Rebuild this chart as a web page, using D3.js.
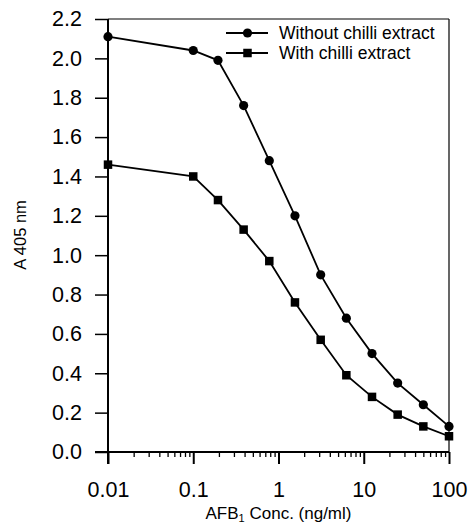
<!DOCTYPE html>
<html><head><meta charset="utf-8">
<script src="https://cdn.jsdelivr.net/npm/d3@7"></script>
<style>body{margin:0;background:#fff}svg{display:block}</style>
</head><body>
<script>
const conc = [0.01, 0.1, 0.195, 0.39, 0.78, 1.56, 3.125, 6.25, 12.5, 25, 50, 100];
const without = [2.11, 2.04, 1.99, 1.76, 1.48, 1.20, 0.90, 0.68, 0.50, 0.35, 0.24, 0.13];
const withC = [1.46, 1.40, 1.28, 1.13, 0.97, 0.76, 0.57, 0.39, 0.28, 0.19, 0.13, 0.08];
const yTicks = [0.0, 0.2, 0.4, 0.6, 0.8, 1.0, 1.2, 1.4, 1.6, 1.8, 2.0, 2.2];
const xTicks = [0.01, 0.1, 1, 10, 100];
const seriesNames = ["Without chilli extract", "With chilli extract"];

const W = 471, H = 523;
const L = 108, R = 449, T = 19, B = 452;
const svg = d3.select("body").append("svg").attr("width", W).attr("height", H);
const x = d3.scaleLog().domain([0.01, 100]).range([L, R]);
const y = d3.scaleLinear().domain([0, 2.2]).range([B, T]);
const font = "'Liberation Sans', Arial, sans-serif";

// frame top & right
svg.append("line").attr("x1", L).attr("x2", R).attr("y1", T).attr("y2", T).attr("stroke", "#000").attr("stroke-width", 1.2);
svg.append("line").attr("x1", R).attr("x2", R).attr("y1", T).attr("y2", B).attr("stroke", "#000").attr("stroke-width", 1.2);

// y axis
const yAxis = d3.axisLeft(y).tickValues(yTicks).tickFormat(d3.format(".1f")).tickSize(13).tickPadding(13);
const gy = svg.append("g").attr("transform", `translate(${L},0)`).call(yAxis);
gy.select(".domain").remove();
gy.selectAll(".tick line").attr("stroke-width", 1.5);
gy.selectAll("text").attr("font-family", font).attr("font-size", 21.5).attr("fill", "#000");
svg.append("line").attr("x1", L).attr("x2", L).attr("y1", T).attr("y2", B + 12).attr("stroke", "#000").attr("stroke-width", 2);

// x axis
const minor = [];
for (let e = -2; e < 2; e++) for (let k = 2; k <= 9; k++) minor.push(k * Math.pow(10, e));
const gxm = svg.append("g").attr("transform", `translate(0,${B})`).call(d3.axisBottom(x).tickValues(minor).tickSize(5).tickFormat(""));
gxm.select(".domain").remove();
gxm.selectAll(".tick line").attr("stroke-width", 1.3);
const gx = svg.append("g").attr("transform", `translate(0,${B})`)
  .call(d3.axisBottom(x).tickValues(xTicks).tickSize(12).tickPadding(18).tickFormat(d => String(d)));
gx.select(".domain").remove();
gx.selectAll(".tick line").attr("stroke-width", 2);
gx.selectAll("text").attr("font-family", font).attr("font-size", 21.5).attr("fill", "#000");
svg.append("line").attr("x1", L - 13).attr("x2", R).attr("y1", B).attr("y2", B).attr("stroke", "#000").attr("stroke-width", 2);

// axis titles
const xt = svg.append("text").attr("x", x(1)).attr("y", 519).attr("text-anchor", "middle")
  .attr("font-family", font).attr("font-size", 17).attr("fill", "#000");
xt.append("tspan").text("AFB");
xt.append("tspan").attr("font-size", 11).attr("dy", 3).text("1");
xt.append("tspan").attr("dy", -3).text(" Conc. (ng/ml)");
svg.append("text").attr("transform", `translate(26,235) rotate(-90)`).attr("text-anchor", "middle")
  .attr("font-family", font).attr("font-size", 16.5).attr("fill", "#000").text("A 405 nm");

// series
const line = d3.line().x(d => x(d[0])).y(d => y(d[1]));
const d1 = conc.map((c, i) => [c, without[i]]);
const d2 = conc.map((c, i) => [c, withC[i]]);
svg.append("path").datum(d1).attr("d", line).attr("fill", "none").attr("stroke", "#000").attr("stroke-width", 1.8);
svg.append("path").datum(d2).attr("d", line).attr("fill", "none").attr("stroke", "#000").attr("stroke-width", 1.8);
svg.selectAll(".c").data(d1).enter().append("circle").attr("cx", d => x(d[0])).attr("cy", d => y(d[1])).attr("r", 4.6).attr("fill", "#000");
const s = 8.5;
svg.selectAll(".s").data(d2).enter().append("rect").attr("x", d => x(d[0]) - s / 2).attr("y", d => y(d[1]) - s / 2).attr("width", s).attr("height", s).attr("fill", "#000");

// legend
const legY = [33, 53];
seriesNames.forEach((n, i) => {
  const g = svg.append("g");
  g.append("line").attr("x1", 226).attr("x2", 268).attr("y1", legY[i]).attr("y2", legY[i]).attr("stroke", "#000").attr("stroke-width", 1.8);
  if (i === 0) g.append("circle").attr("cx", 247.5).attr("cy", legY[i]).attr("r", 4.6).attr("fill", "#000");
  else g.append("rect").attr("x", 247.5 - s / 2).attr("y", legY[i] - s / 2).attr("width", s).attr("height", s).attr("fill", "#000");
  g.append("text").attr("x", 279).attr("y", legY[i] + 6).attr("font-family", font).attr("font-size", 17.5).attr("fill", "#000").text(n);
});
</script>
</body></html>
